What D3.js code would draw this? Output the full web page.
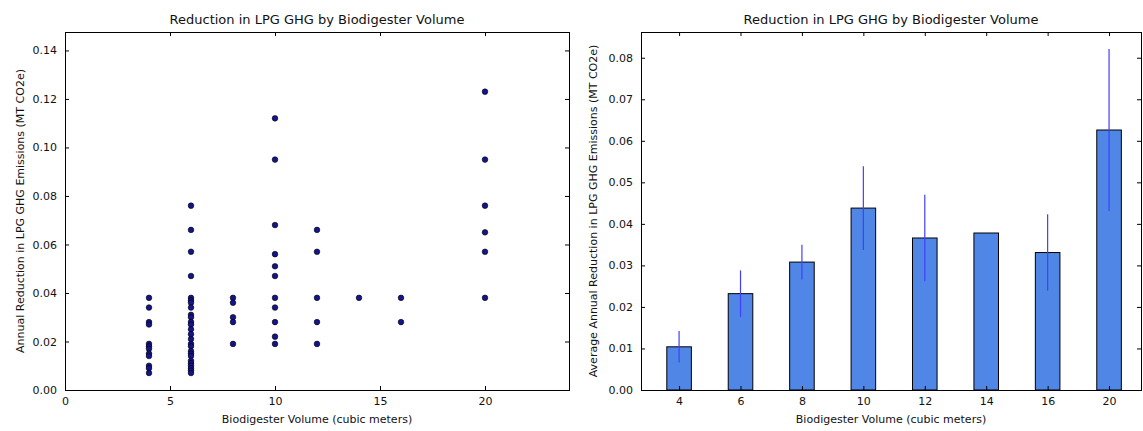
<!DOCTYPE html>
<html lang="en">
<head>
<meta charset="utf-8"/>
<title>Reduction in LPG GHG by Biodigester Volume</title>
<script src="https://d3js.org/d3.v7.min.js"></script>
<style>
body { margin: 0; background: #fff; }
text { font-family: "DejaVu Sans", sans-serif; fill: #111; }
.frame { fill: none; stroke: #000; stroke-width: 1; }
.tick line { stroke: #000; }
.tick text { font-size: 11px; }
.title { font-size: 13px; }
.label { font-size: 11px; }
.dot { fill: #14148c; stroke: #000; stroke-width: 0.6; }
.bar { fill: #5086e6; stroke: #000; stroke-width: 1; }
.err { stroke: #4040ff; stroke-width: 1.2; }
</style>
</head>
<body>
<div id="chart"></div>
<script>
// scatter: one entry per visible point (volume, reduction)
var scatterVolume = [
   4, 4, 4, 4, 4, 4, 4, 4, 4, 4, 4, 4,
   6, 6, 6, 6, 6, 6, 6, 6, 6, 6, 6, 6, 6, 6, 6, 6, 6, 6, 6, 6, 6, 6, 6, 6, 6, 6,
   8, 8, 8, 8, 8,
   10, 10, 10, 10, 10, 10, 10, 10, 10, 10, 10,
   12, 12, 12, 12, 12,
   14,
   16, 16,
   20, 20, 20, 20, 20, 20
];
var scatterReduction = [
   0.038, 0.034, 0.028, 0.027, 0.019, 0.018, 0.017, 0.015, 0.014, 0.010, 0.009, 0.007,
   0.076, 0.066, 0.057, 0.047, 0.038, 0.037, 0.036, 0.034, 0.031, 0.030, 0.028, 0.027, 0.025,
   0.023, 0.021, 0.019, 0.018, 0.016, 0.015, 0.014, 0.012, 0.011, 0.010, 0.009, 0.008, 0.007,
   0.038, 0.036, 0.030, 0.028, 0.019,
   0.112, 0.095, 0.068, 0.056, 0.051, 0.047, 0.038, 0.034, 0.028, 0.022, 0.019,
   0.066, 0.057, 0.038, 0.028, 0.019,
   0.038,
   0.038, 0.028,
   0.123, 0.095, 0.076, 0.065, 0.057, 0.038
];

// bar chart: mean and error per volume
var barVolumes = ["4", "6", "8", "10", "12", "14", "16", "20"];
var barMeans   = [0.0104, 0.0232, 0.0308, 0.0438, 0.0366, 0.0378, 0.0331, 0.0626];
var barErrors  = [0.0038, 0.0056, 0.0042, 0.0101, 0.0104, 0, 0.0092, 0.0195];

var leftXTicks  = [0, 5, 10, 15, 20];
var leftYTicks  = [0, 0.02, 0.04, 0.06, 0.08, 0.10, 0.12, 0.14];
var rightYTicks = [0, 0.01, 0.02, 0.03, 0.04, 0.05, 0.06, 0.07, 0.08];

var w = 1143;
var h = 431;
var plotTop = 32, plotBottom = 390;

var svg = d3.select("#chart")
            .append("svg")
            .attr("width", w)
            .attr("height", h);

svg.append("rect").attr("width", w).attr("height", h).attr("fill", "#fff");

// draws inward ticks on all four sides plus the frame
function frameAxes(g, x, y, xTicks, yTicks, x0, x1, fmtX) {
   var ax = g.append("g")
      .attr("transform", "translate(0," + plotBottom + ")")
      .call(d3.axisBottom(x).tickValues(xTicks).tickSize(-4).tickSizeOuter(0).tickPadding(7).tickFormat(fmtX));
   ax.select(".domain").remove();

   var at = g.append("g")
      .attr("transform", "translate(0," + plotTop + ")")
      .call(d3.axisTop(x).tickValues(xTicks).tickSize(-4).tickSizeOuter(0).tickFormat(""));
   at.select(".domain").remove();

   var ay = g.append("g")
      .attr("transform", "translate(" + x0 + ",0)")
      .call(d3.axisLeft(y).tickValues(yTicks).tickSize(-4).tickSizeOuter(0).tickPadding(8).tickFormat(d3.format(".2f")));
   ay.select(".domain").remove();

   var ar = g.append("g")
      .attr("transform", "translate(" + x1 + ",0)")
      .call(d3.axisRight(y).tickValues(yTicks).tickSize(-4).tickSizeOuter(0).tickFormat(""));
   ar.select(".domain").remove();

   g.append("rect")
      .attr("class", "frame")
      .attr("x", x0 + 0.5)
      .attr("y", plotTop + 0.5)
      .attr("width", x1 - x0)
      .attr("height", plotBottom - plotTop);
}

function labels(g, x0, x1, yText, yLabelX) {
   g.append("text")
      .attr("class", "title")
      .attr("x", (x0 + x1) / 2)
      .attr("y", 24)
      .attr("text-anchor", "middle")
      .text("Reduction in LPG GHG by Biodigester Volume");

   g.append("text")
      .attr("class", "label")
      .attr("x", (x0 + x1) / 2)
      .attr("y", 423)
      .attr("text-anchor", "middle")
      .text("Biodigester Volume (cubic meters)");

   g.append("text")
      .attr("class", "label")
      .attr("transform", "translate(" + yLabelX + "," + ((plotTop + plotBottom) / 2) + ") rotate(-90)")
      .attr("text-anchor", "middle")
      .text(yText);
}

// ---- left: scatter ----
var lx0 = 65, lx1 = 569;
var left = svg.append("g");

var xScale = d3.scaleLinear().domain([0, 24]).range([lx0, lx1]);
var yScale = d3.scaleLinear().domain([0, 0.1476]).range([plotBottom, plotTop]);

left.selectAll(".dot")
   .data(scatterVolume)
   .enter()
   .append("circle")
   .attr("class", "dot")
   .attr("cx", function(d){ return xScale(d); })
   .attr("cy", function(d, i){ return yScale(scatterReduction[i]); })
   .attr("r", 2.8);

frameAxes(left, xScale, yScale, leftXTicks, leftYTicks, lx0, lx1, d3.format("d"));
labels(left, lx0, lx1, "Annual Reduction in LPG GHG Emissions (MT CO2e)", 24);

// ---- right: bars with error bars ----
var rx0 = 641, rx1 = 1141;
var right = svg.append("g");

// bars sit on index positions, labelled with the volume
var idx = d3.range(barVolumes.length);
var bScale = d3.scaleLinear().domain([-0.62, 7.52]).range([rx0, rx1]);
var barW = (bScale(1) - bScale(0)) * 0.4;
var yScale2 = d3.scaleLinear().domain([0, 0.0862]).range([plotBottom, plotTop]);

right.selectAll(".bar")
   .data(idx)
   .enter()
   .append("rect")
   .attr("class", "bar")
   .attr("x", function(i){ return bScale(i) - barW / 2; })
   .attr("y", function(i){ return yScale2(barMeans[i]); })
   .attr("width", barW)
   .attr("height", function(i){ return plotBottom - yScale2(barMeans[i]); });

right.selectAll(".err")
   .data(idx)
   .enter()
   .append("line")
   .attr("class", "err")
   .attr("x1", function(i){ return bScale(i); })
   .attr("x2", function(i){ return bScale(i); })
   .attr("y1", function(i){ return yScale2(barMeans[i] - barErrors[i]); })
   .attr("y2", function(i){ return yScale2(barMeans[i] + barErrors[i]); });

frameAxes(right, bScale, yScale2, idx, rightYTicks, rx0, rx1, function(i){ return barVolumes[i]; });
labels(right, rx0, rx1, "Average Annual Reduction in LPG GHG Emissions (MT CO2e)", 597);
</script>
</body>
</html>
